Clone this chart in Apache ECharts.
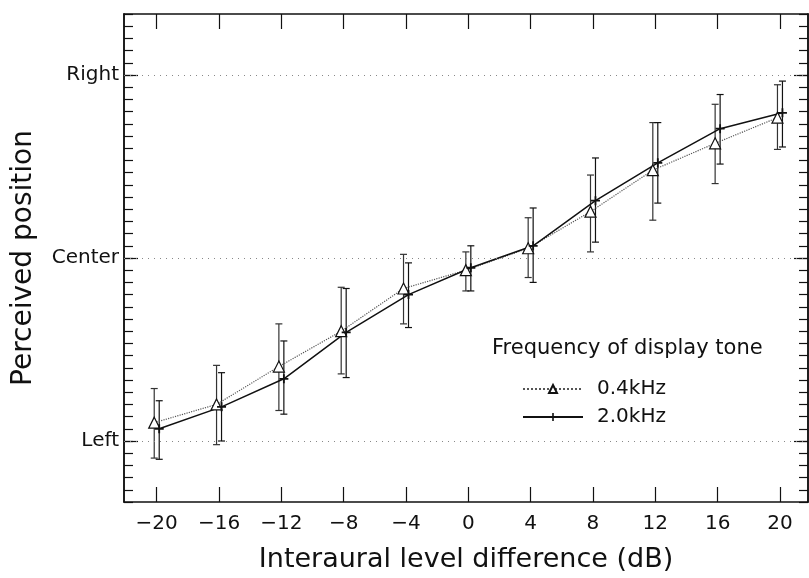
<!DOCTYPE html>
<html>
<head>
<meta charset="utf-8">
<script src="https://cdn.jsdelivr.net/npm/echarts@6/dist/echarts.min.js"></script>
<style>
html,body{margin:0;padding:0;background:#fff;}
#chart{width:809px;height:578px;}
</style>
</head>
<body>
<div id="chart"></div>
<script>
// ---- data ----
const levelDiff = [-20, -16, -12, -8, -4, 0, 4, 8, 12, 16, 20];           // dB
// perceived position: Left = 0, Center = 15, Right = 30
const pos04 = [1.5, 3.0, 6.1, 9.0, 12.5, 14.0, 15.8, 18.8, 22.2, 24.4, 26.5];
const pos04Hi = [4.3, 6.2, 9.6, 12.6, 15.3, 15.5, 18.3, 21.8, 26.1, 27.6, 29.2];
const pos04Lo = [-1.4, -0.3, 2.5, 5.5, 9.6, 12.3, 13.4, 15.5, 18.1, 21.1, 23.9];
const pos20 = [1.0, 2.8, 5.1, 8.9, 12.0, 14.2, 16.0, 19.7, 22.8, 25.6, 26.9];
const pos20Hi = [3.3, 5.6, 8.2, 12.5, 14.6, 16.0, 19.1, 23.2, 26.1, 28.4, 29.5];
const pos20Lo = [-1.5, 0.0, 2.2, 5.2, 9.3, 12.3, 13.0, 16.3, 19.5, 22.7, 24.1];
const xTicks = [-20, -16, -12, -8, -4, 0, 4, 8, 12, 16, 20];
const yLabelValues = [0, 15, 30];
const yLabelNames = ['Left', 'Center', 'Right'];
const seriesNames = ['0.4kHz', '2.0kHz'];
const legendTitle = 'Frequency of display tone';
const xTitle = 'Interaural level difference (dB)';
const yTitle = 'Perceived position';

// ---- presentation ----
const FONT = 'DejaVu Sans';
const INK = '#111';
const DODGE = 0.16; // horizontal dodge of the two series, in dB
const yMinor = [];
for (let v = -5; v <= 35; v++) yMinor.push(v);

const lineData04 = levelDiff.map((x, i) => [x - DODGE, pos04[i]]);
const lineData20 = levelDiff.map((x, i) => [x + DODGE, pos20[i]]);
const err04 = levelDiff.map((x, i) => [x, pos04Lo[i], pos04Hi[i]]);
const err20 = levelDiff.map((x, i) => [x, pos20Lo[i], pos20Hi[i]]);

function errorBar(offset, color) {
  return function (params, api) {
    const x = api.value(0) + offset;
    const lo = api.coord([x, api.value(1)]);
    const hi = api.coord([x, api.value(2)]);
    const hw = 3.5;
    const st = {stroke: color, lineWidth: 1.2};
    return {
      type: 'group',
      children: [
        {type: 'line', shape: {x1: hi[0], y1: hi[1], x2: lo[0], y2: lo[1]}, style: st},
        {type: 'line', shape: {x1: hi[0] - hw, y1: hi[1], x2: hi[0] + hw, y2: hi[1]}, style: st},
        {type: 'line', shape: {x1: lo[0] - hw, y1: lo[1], x2: lo[0] + hw, y2: lo[1]}, style: st}
      ]
    };
  };
}

const axisLineStyle = {show: true, onZero: false, lineStyle: {color: INK, width: 1.5}};
const xRange = {min: -22.1, max: 21.8};
const yRange = {min: -5, max: 35};

const chart = echarts.init(document.getElementById('chart'), null, {renderer: 'canvas'});
chart.setOption({
  backgroundColor: '#fff',
  animation: false,
  title: {
    text: legendTitle,
    left: 492, top: 338, padding: 0,
    textStyle: {fontFamily: FONT, fontSize: 21, fontWeight: 'normal', color: INK}
  },
  legend: {
    data: seriesNames,
    orient: 'vertical',
    left: 517, top: 374,
    itemWidth: 60, itemHeight: 10, itemGap: 8,
    textStyle: {fontFamily: FONT, fontSize: 20, color: INK, padding: [0, 0, 0, 9]}
  },
  grid: {left: 124, right: 1, top: 14, bottom: 75.5, containLabel: false},
  xAxis: [
    {
      type: 'value', position: 'bottom', ...xRange,
      name: xTitle, nameLocation: 'middle', nameGap: 44,
      nameTextStyle: {fontFamily: FONT, fontSize: 27, color: INK},
      axisLine: axisLineStyle,
      axisTick: {show: true, inside: true, length: 15, customValues: xTicks, lineStyle: {color: INK, width: 1.2}},
      axisLabel: {show: true, customValues: xTicks, margin: 12, fontFamily: FONT, fontSize: 20, color: INK,
        formatter: v => String(v).replace('-', '\u2212')},
      splitLine: {show: false}
    },
    {
      type: 'value', position: 'top', ...xRange,
      axisLine: axisLineStyle,
      axisTick: {show: true, inside: true, length: 15, customValues: xTicks, lineStyle: {color: INK, width: 1.2}},
      axisLabel: {show: false},
      splitLine: {show: false}
    }
  ],
  yAxis: [
    {
      type: 'value', position: 'left', ...yRange,
      name: yTitle, nameLocation: 'middle', nameGap: 86, nameRotate: 90,
      nameTextStyle: {fontFamily: FONT, fontSize: 28, color: INK},
      axisLine: axisLineStyle,
      axisTick: {show: true, inside: true, length: 14, customValues: yLabelValues, lineStyle: {color: INK, width: 1.2}},
      axisLabel: {show: true, customValues: yLabelValues, margin: 5, fontFamily: FONT, fontSize: 20, color: INK,
        formatter: v => yLabelNames[yLabelValues.indexOf(v)]},
      splitLine: {show: false}
    },
    {
      type: 'value', position: 'left', ...yRange,
      axisLine: axisLineStyle,
      axisTick: {show: true, inside: true, length: 9, customValues: yMinor, lineStyle: {color: INK, width: 1.2}},
      axisLabel: {show: false}, splitLine: {show: false}
    },
    {
      type: 'value', position: 'right', ...yRange,
      axisLine: axisLineStyle,
      axisTick: {show: true, inside: true, length: 14, customValues: yLabelValues, lineStyle: {color: INK, width: 1.2}},
      axisLabel: {show: false}, splitLine: {show: false}
    },
    {
      type: 'value', position: 'right', ...yRange,
      axisLine: axisLineStyle,
      axisTick: {show: true, inside: true, length: 9, customValues: yMinor, lineStyle: {color: INK, width: 1.2}},
      axisLabel: {show: false}, splitLine: {show: false}
    }
  ],
  series: [
    {
      name: seriesNames[0], type: 'line', data: lineData04,
      xAxisIndex: 0, yAxisIndex: 0,
      symbol: 'triangle', symbolSize: 11, z: 4,
      itemStyle: {color: '#fff', borderColor: INK, borderWidth: 1.2},
      lineStyle: {color: '#555', width: 1.2, type: 'dotted'},
      markLine: {
        silent: true, symbol: 'none', label: {show: false},
        lineStyle: {color: '#888', width: 1, type: [1, 5]},
        data: yLabelValues.map(v => ({yAxis: v}))
      }
    },
    {
      name: seriesNames[1], type: 'line', data: lineData20,
      xAxisIndex: 0, yAxisIndex: 0,
      symbol: 'path://M4,0H6V4H10V6H6V10H4V6H0V4H4Z', symbolSize: 9, z: 4,
      itemStyle: {color: INK},
      lineStyle: {color: INK, width: 1.5, type: 'solid'}
    },
    {
      type: 'custom', data: err04, xAxisIndex: 0, yAxisIndex: 0, z: 3,
      encode: {x: 0, y: [1, 2]},
      renderItem: errorBar(-DODGE, '#333')
    },
    {
      type: 'custom', data: err20, xAxisIndex: 0, yAxisIndex: 0, z: 3,
      encode: {x: 0, y: [1, 2]},
      renderItem: errorBar(DODGE, INK)
    }
  ]
});
</script>
</body>
</html>
